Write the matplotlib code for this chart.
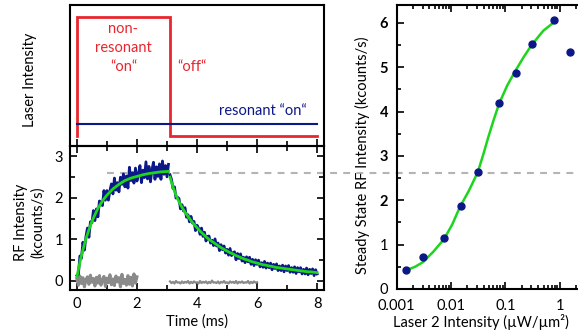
import numpy as np
import matplotlib
matplotlib.use('Agg')
import matplotlib.pyplot as plt
from matplotlib.ticker import MultipleLocator, LogLocator, NullFormatter, FixedLocator
from matplotlib.lines import Line2D

plt.rcParams['font.family'] = ['Lato', 'DejaVu Sans']
plt.rcParams['font.size'] = 10

# ---------------- data ----------------
# top panel: laser pulse scheme
pulse_t = [0, 0, 3.1, 3.1, 8]
pulse_level = [0.071, 0.915, 0.915, 0.071, 0.071]
resonant_t = [0, 8]
resonant_level = [0.156, 0.156]

# bottom-left: RF trace (kcounts/s) vs time (ms)
rise_values = [0.13, 0.16, 0.60, 0.54, 0.93, 0.74, 1.06, 1.27, 1.05, 1.42,
               1.40, 1.69, 1.45, 1.73, 1.54, 1.92, 1.89, 1.81, 2.17, 1.94,
               2.17, 1.94, 2.17, 2.33, 2.09, 2.47, 2.18, 2.36, 2.14, 2.49,
               2.32, 2.57, 2.26, 2.52, 2.23, 2.73, 2.41, 2.60, 2.35, 2.71,
               2.40, 2.57, 2.77, 2.36, 2.66, 2.48, 2.86, 2.45, 2.75, 2.38,
               2.67, 2.85, 2.44, 2.74, 2.51, 2.81, 2.44, 2.88, 2.56, 2.77,
               2.50, 2.80]
decay_values = [2.55, 2.44, 2.22, 2.26, 1.99, 2.01, 1.98, 1.73, 1.83, 1.68,
                1.76, 1.53, 1.59, 1.42, 1.55, 1.39, 1.43, 1.21, 1.34, 1.27,
                1.12, 1.27, 1.07, 1.17, 0.96, 1.07, 1.08, 0.91, 0.98, 0.85,
                1.01, 0.84, 0.91, 0.73, 0.87, 0.75, 0.84, 0.67, 0.76, 0.62,
                0.78, 0.61, 0.68, 0.70, 0.51, 0.66, 0.54, 0.65, 0.48, 0.57,
                0.44, 0.58, 0.46, 0.57, 0.40, 0.52, 0.37, 0.51, 0.40, 0.50,
                0.34, 0.44, 0.33, 0.47, 0.31, 0.43, 0.32, 0.43, 0.27, 0.40,
                0.30, 0.41, 0.25, 0.36, 0.25, 0.38, 0.22, 0.36, 0.25, 0.37,
                0.21, 0.32, 0.21, 0.34, 0.18, 0.32, 0.22, 0.32, 0.17, 0.28,
                0.17, 0.31, 0.15, 0.28, 0.18, 0.29, 0.13, 0.27, 0.17]
background1 = [0.05, -0.10, 0.12, -0.06, 0.08, -0.14, 0.03, 0.10, -0.08, 0.14,
               -0.03, 0.06, -0.12, 0.09, -0.05, 0.13, -0.10, 0.02, 0.11, -0.13,
               0.07, -0.04, 0.15, -0.09, 0.05, -0.11, 0.12, -0.02, 0.08, -0.14,
               0.16, -0.06, 0.04, -0.10, 0.13, -0.08, 0.09, -0.12, 0.17, -0.05,
               0.10]
background2 = [-0.01, -0.05, -0.02, -0.06, 0.00, -0.04, -0.03, -0.06, -0.01, -0.05,
               -0.02, -0.04, 0.00, -0.06, -0.02, -0.05, -0.01, -0.04, -0.03, -0.06,
               0.00, -0.05, -0.02, -0.04, -0.01, -0.06, -0.02, -0.05, 0.01, -0.04,
               -0.03, -0.05, -0.01, -0.06, -0.02, -0.04, 0.00, -0.05, -0.03, -0.06,
               -0.01, -0.04, -0.02, -0.05, 0.00, -0.06, -0.02, -0.04, -0.01, -0.05,
               -0.03, -0.04, 0.00, -0.06, -0.02, -0.05, -0.01, -0.04, -0.03]
fit_rise_t = [0, 0.1, 0.2, 0.3, 0.4, 0.5, 0.6, 0.7, 0.8, 0.9, 1.0, 1.2, 1.4,
              1.6, 1.8, 2.0, 2.2, 2.4, 2.6, 2.8, 3.05]
fit_rise_v = [0.10, 0.45, 0.75, 1.01, 1.23, 1.43, 1.59, 1.74, 1.86, 1.97, 2.06,
              2.21, 2.32, 2.41, 2.47, 2.51, 2.55, 2.58, 2.60, 2.62, 2.63]
fit_decay_v = [2.49, 2.26, 2.06, 1.90, 1.77, 1.65, 1.55, 1.45, 1.36, 1.28,
               1.20, 1.13, 1.06, 1.00, 0.95, 0.90, 0.85, 0.80, 0.76, 0.72,
               0.68, 0.65, 0.61, 0.58, 0.55, 0.52, 0.50, 0.47, 0.45, 0.43,
               0.41, 0.39, 0.38, 0.36, 0.35, 0.33, 0.32, 0.31, 0.30, 0.29,
               0.28, 0.27, 0.26, 0.25, 0.24, 0.23, 0.22, 0.22, 0.21, 0.20]

# right: steady state RF intensity vs laser 2 intensity
laser2 = [0.0015, 0.003, 0.0074, 0.0152, 0.031, 0.077, 0.154, 0.306, 0.766, 1.52]
steady = [0.43, 0.73, 1.14, 1.86, 2.64, 4.20, 4.86, 5.51, 6.06, 5.35]
fit_laser2 = [0.00149, 0.00219, 0.0031, 0.00473, 0.00741, 0.0105, 0.0146,
              0.0214, 0.0309, 0.0389, 0.0483, 0.0603, 0.076, 0.107, 0.149,
              0.214, 0.302, 0.494, 0.753]
fit_steady = [0.42, 0.50, 0.61, 0.84, 1.12, 1.45, 1.85, 2.22, 2.63, 3.02,
              3.42, 3.80, 4.17, 4.58, 4.90, 5.22, 5.50, 5.82, 6.00]

steady_level = 2.6

# time axes
rise_t = np.linspace(0, 3.05, len(rise_values))
decay_t = np.linspace(3.1, 8.0, len(decay_values))
bg1_t = np.linspace(0, 2.0, len(background1))
bg2_t = np.linspace(3.1, 6.0, len(background2))
fit_decay_t = np.linspace(3.1, 8.0, len(fit_decay_v))

NAVY = '#0c1888'
RED = '#e8262e'
GREEN = '#1ed51e'
GRAY = '#8a8a8a'

W, H = 578, 335
fig = plt.figure(figsize=(W / 100, H / 100), dpi=100)


def add_ax(x0, y0, x1, y1):
    return fig.add_axes([x0 / W, 1 - y1 / H, (x1 - x0) / W, (y1 - y0) / H])


ax_top = add_ax(70, 5, 324, 146)
ax_bot = add_ax(70, 146, 324, 290)
ax_r = add_ax(396.5, 5, 578, 289)

for ax in (ax_top, ax_bot, ax_r):
    ax.patch.set_alpha(0)
    for s in ax.spines.values():
        s.set_linewidth(1.5)

# ---- top panel ----
ax_top.plot(pulse_t, pulse_level, color=RED, lw=2.0, solid_joinstyle='miter')
ax_top.plot(resonant_t, resonant_level, color=NAVY, lw=1.5)
ax_top.set_xlim(-0.23, 8.23)
ax_top.set_ylim(0, 1)
ax_top.set_yticks([])
ax_top.xaxis.set_major_locator(MultipleLocator(2))
ax_top.xaxis.set_minor_locator(MultipleLocator(1))
ax_top.tick_params(axis='x', which='both', direction='in', labelbottom=False,
                   top=False, width=1.2)
ax_top.tick_params(axis='x', which='major', length=5)
ax_top.tick_params(axis='x', which='minor', length=3.5)
ax_top.text(1.55, 0.695, 'non-\nresonant\n\u201con\u201c', color=RED,
            ha='center', va='center', linespacing=1.45, fontsize=10.5)
ax_top.text(3.83, 0.56, '\u201coff\u201c', color=RED, ha='center', va='center',
            fontsize=10.5)
ax_top.text(6.2, 0.245, 'resonant \u201con\u201c', color=NAVY, ha='center',
            va='center', fontsize=10.5)
ax_top.set_ylabel('Laser Intensity', fontsize=10.5)
ax_top.yaxis.set_label_coords(-0.157, 0.468)
ax_top.yaxis.label.set_va('center')

# ---- bottom-left panel ----
ax_bot.plot(bg1_t, background1, color=GRAY, lw=2.2, zorder=2)
ax_bot.plot(bg2_t, background2, color=GRAY, lw=1.6, zorder=2)
ax_bot.plot(rise_t, rise_values, color=NAVY, lw=2.0, zorder=3)
ax_bot.plot(decay_t, decay_values, color=NAVY, lw=2.0, zorder=3)
ax_bot.plot(fit_rise_t, fit_rise_v, color=GREEN, lw=2.0, zorder=4)
ax_bot.plot(fit_decay_t, fit_decay_v, color=GREEN, lw=2.0, zorder=4)
ax_bot.set_xlim(-0.23, 8.23)
ax_bot.set_ylim(-0.216, 3.24)
ax_bot.xaxis.set_major_locator(MultipleLocator(2))
ax_bot.xaxis.set_minor_locator(MultipleLocator(1))
ax_bot.yaxis.set_major_locator(MultipleLocator(1))
ax_bot.yaxis.set_minor_locator(MultipleLocator(0.5))
ax_bot.tick_params(which='both', direction='in', top=True, right=True, width=1.2,
                   labelsize=10.5)
ax_bot.tick_params(which='major', length=5, pad=5)
ax_bot.tick_params(which='minor', length=3.5)
ax_bot.set_xlabel('Time (ms)', fontsize=10.5)
ax_bot.xaxis.set_label_coords(0.5, -0.222)
ax_bot.xaxis.label.set_va('center')
ax_bot.set_ylabel('RF Intensity\n(kcounts/s)', fontsize=10.5, linespacing=1.25)
ax_bot.yaxis.set_label_coords(-0.161, 0.472)
ax_bot.yaxis.label.set_va('center')

# ---- right panel ----
ax_r.plot(fit_laser2, fit_steady, color=GREEN, lw=1.8, zorder=3)
ax_r.plot(laser2, steady, 'o', color=NAVY, ms=5, zorder=4)
ax_r.set_xscale('log')
ax_r.set_xlim(0.001, 2.14)
ax_r.set_ylim(0, 6.4)
ax_r.spines['right'].set_visible(False)
ax_r.xaxis.set_major_locator(FixedLocator([0.001, 0.01, 0.1, 1]))
ax_r.xaxis.set_minor_locator(LogLocator(base=10, subs=np.arange(2, 10)))
ax_r.xaxis.set_minor_formatter(NullFormatter())
ax_r.set_xticks([0.001, 0.01, 0.1, 1])
ax_r.set_xticklabels(['0.001', '0.01', '0.1', '1'])
ax_r.set_yticks([0, 1, 2, 3, 4, 5, 6])
ylabels = ax_r.set_yticklabels(['0', '1', '2', '3', '4', '5', '6'])
for lab in ylabels:
    if lab.get_text() in ('2', '3', '4', '5', '6'):
        lab.set_fontweight('bold')
ax_r.yaxis.set_minor_locator(MultipleLocator(0.5))
ax_r.tick_params(which='both', direction='in', top=True, right=False, width=1.2,
                 labelsize=10.5)
ax_r.tick_params(axis='y', which='major', length=5, pad=6)
ax_r.tick_params(axis='x', which='major', length=5, pad=7)
ax_r.tick_params(which='minor', length=3)
ax_r.set_xlabel('Laser 2 Intensity (\u00b5W/\u00b5m\u00b2)', fontsize=10.5)
ax_r.xaxis.set_label_coords(0.466, -0.116)
ax_r.xaxis.label.set_va('center')
ax_r.set_ylabel('Steady State RF Intensity (kcounts/s)', fontsize=10.5)
ax_r.yaxis.set_label_coords(-0.19, 0.472)
ax_r.yaxis.label.set_va('center')

# ---- dashed steady-state reference line across panels ----
y_px = ax_bot.transData.transform((0, steady_level))[1]
x_start = ax_bot.transData.transform((1.0, 0))[0]
fig_w, fig_h = fig.bbox.width, fig.bbox.height
dash = Line2D([x_start / fig_w, 1.0], [y_px / fig_h, y_px / fig_h],
              transform=fig.transFigure, color='#b4b4b4', lw=1.5,
              dashes=(3.3, 3.0), zorder=-1)
fig.add_artist(dash)

fig.savefig('out.png', dpi=100)
